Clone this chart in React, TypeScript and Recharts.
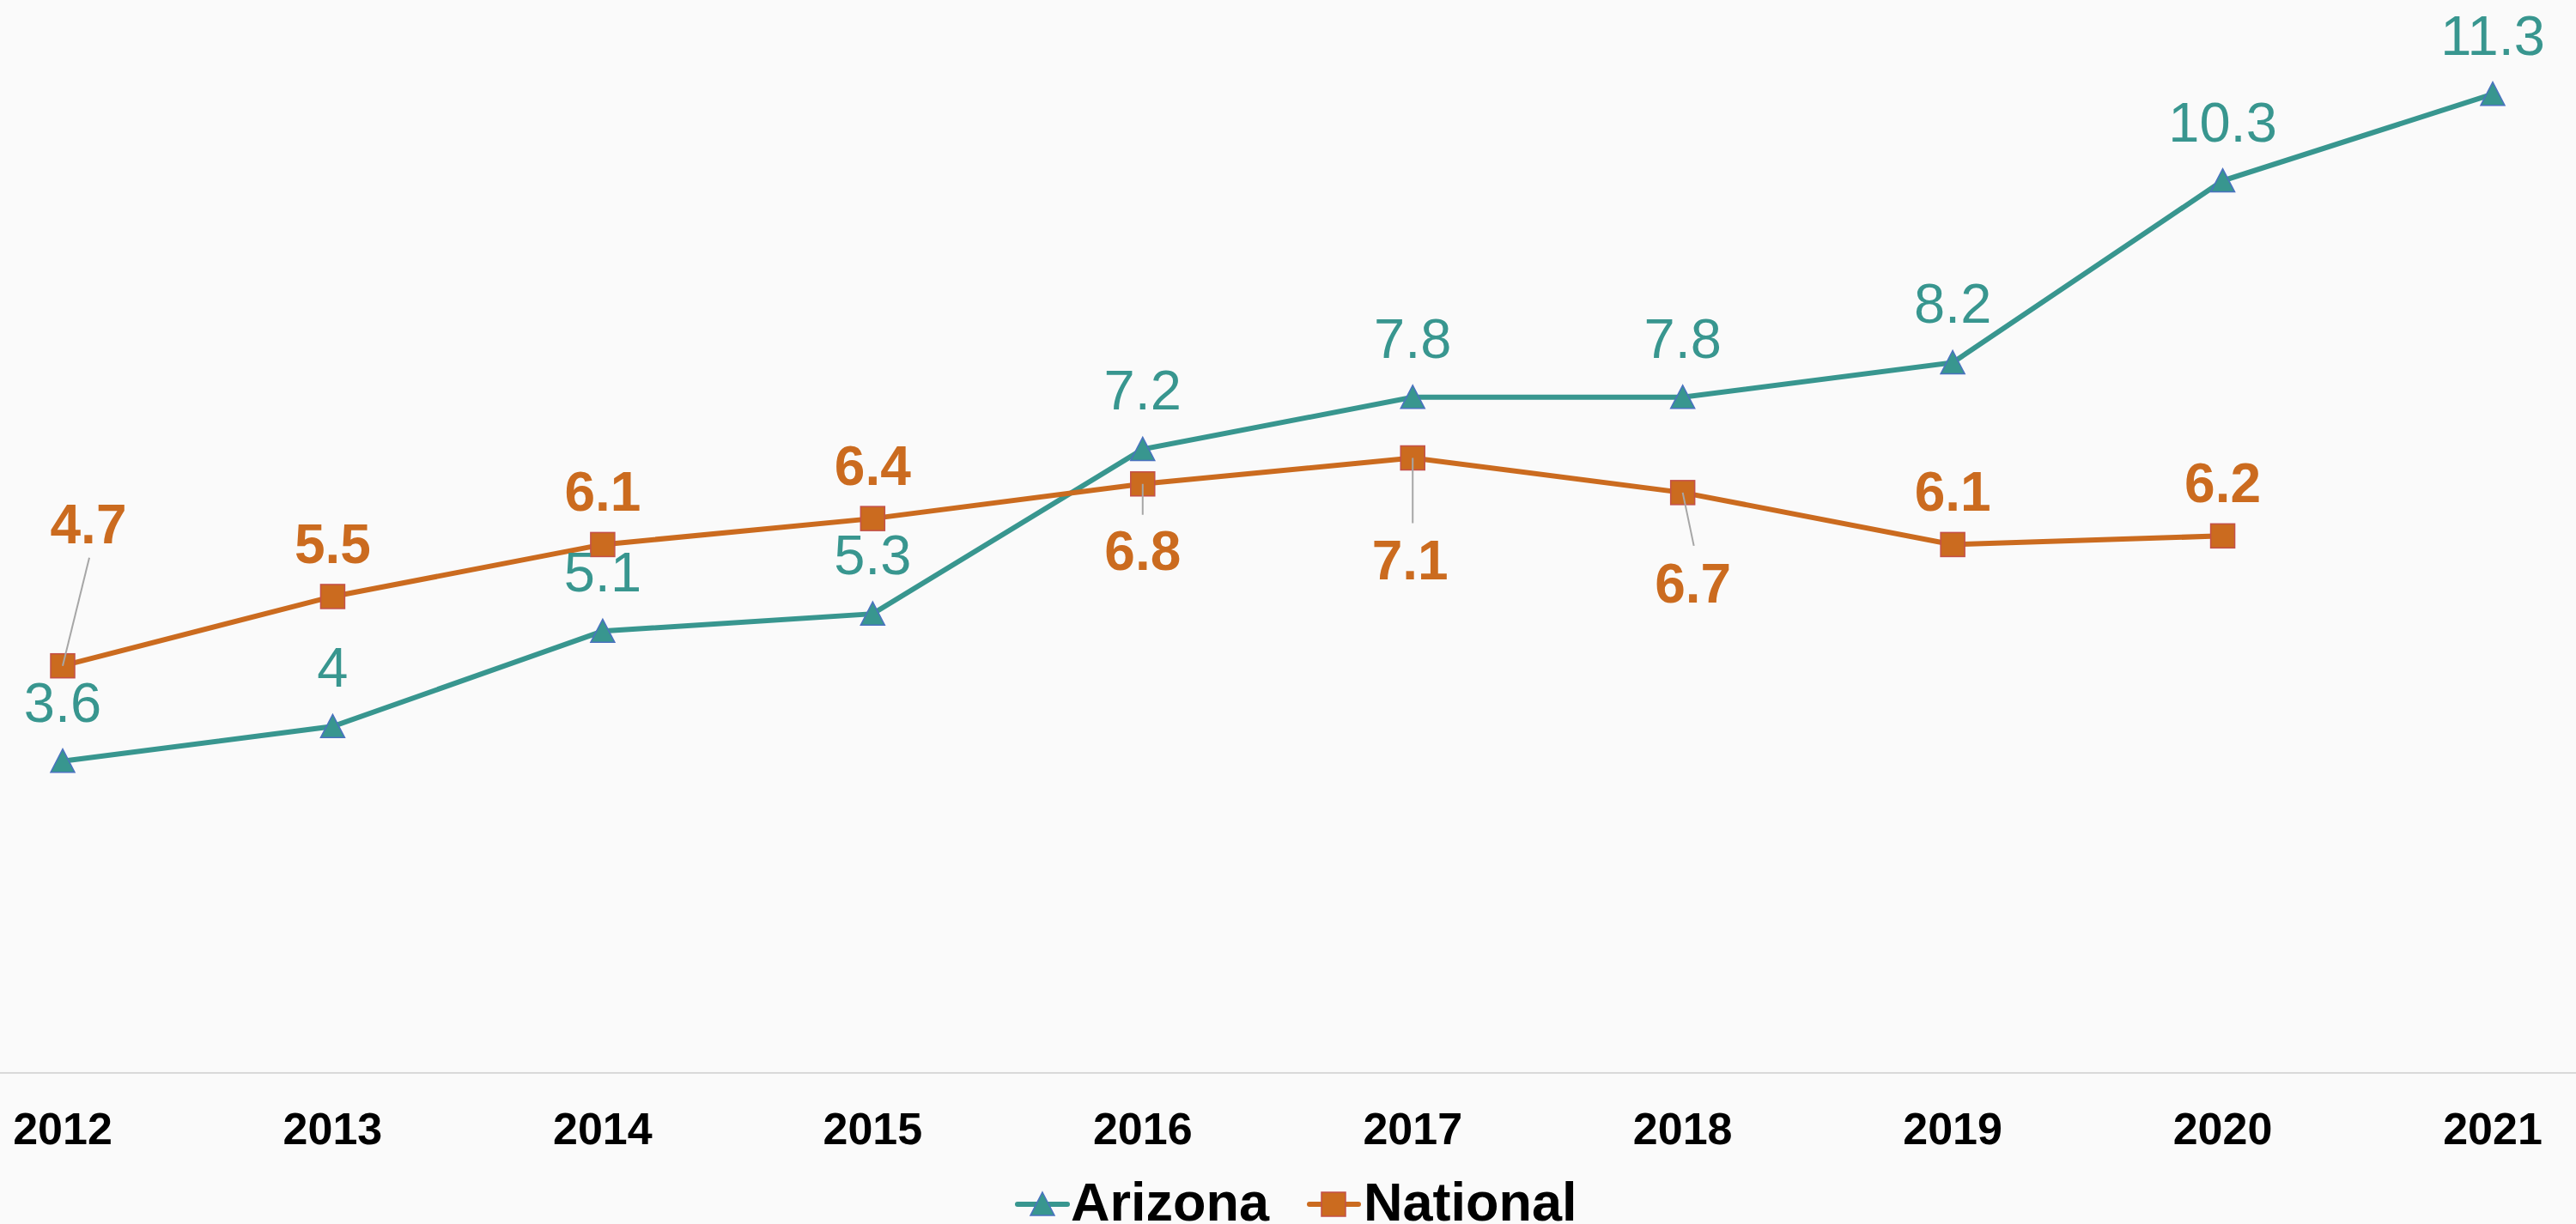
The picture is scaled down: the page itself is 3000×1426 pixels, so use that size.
import { LineChart, Line, XAxis, YAxis, Legend, LabelList } from "recharts";

const years = ["2012", "2013", "2014", "2015", "2016", "2017", "2018", "2019", "2020", "2021"];
const arizona = [3.6, 4, 5.1, 5.3, 7.2, 7.8, 7.8, 8.2, 10.3, 11.3];
const national = [4.7, 5.5, 6.1, 6.4, 6.8, 7.1, 6.7, 6.1, 6.2, null];

const TEAL = "#38968f";
const ORANGE = "#cb6b1f";
const FONT = "'Liberation Sans', Arial, sans-serif";

// where each National label sits relative to its point (dx, baseline dy, leader end)
const nationalLabelPlace = [
  { dx: 30, dy: -143, lead: [31, -126] },
  { dx: 0, dy: -39 },
  { dx: 0, dy: -39 },
  { dx: 0, dy: -39 },
  { dx: 0, dy: 100, lead: [0, 36] },
  { dx: -3, dy: 142, lead: [0, 76] },
  { dx: 12, dy: 128, lead: [13, 62] },
  { dx: 0, dy: -39 },
  { dx: 0, dy: -39 },
  { dx: 0, dy: -39 },
];

const data = years.map((year, i) => ({
  year,
  arizona: arizona[i],
  national: national[i],
}));

const TriangleDot = (props: any) => {
  const { cx, cy, index } = props;
  if (cx == null || cy == null) return <g key={index} />;
  return (
    <path
      key={index}
      d={`M${cx},${cy - 14} L${cx + 14},${cy + 13} L${cx - 14},${cy + 13} Z`}
      fill={TEAL}
      stroke="#4a72c0"
      strokeWidth={1.5}
    />
  );
};

const SquareDot = (props: any) => {
  const { cx, cy, index } = props;
  if (cx == null || cy == null) return <g key={index} />;
  return (
    <rect
      key={index}
      x={cx - 14}
      y={cy - 14}
      width={28}
      height={28}
      fill={ORANGE}
      stroke="#c4504a"
      strokeWidth={1.5}
    />
  );
};

const pos = (props: any) => ({
  x: props.x ?? props.viewBox?.x,
  y: props.y ?? props.viewBox?.y,
});

const ArizonaLabel = (props: any) => {
  const { value, index } = props;
  if (value == null) return null;
  const { x, y } = pos(props);
  return (
    <text
      key={index}
      x={x}
      y={y - 46}
      textAnchor="middle"
      fill={TEAL}
      fontSize={65}
      fontFamily={FONT}
    >
      {value}
    </text>
  );
};

const NationalLabel = (props: any) => {
  const { value, index } = props;
  if (value == null) return null;
  const { x, y } = pos(props);
  const p = nationalLabelPlace[index];
  return (
    <g key={index}>
      {p.lead && (
        <line x1={x} y1={y} x2={x + p.lead[0]} y2={y + p.lead[1]} stroke="#a6a6a6" strokeWidth={2} />
      )}
      <text
        x={x + p.dx}
        y={y + p.dy}
        textAnchor="middle"
        fill={ORANGE}
        fontSize={64}
        fontWeight="bold"
        fontFamily={FONT}
      >
        {value}
      </text>
    </g>
  );
};

const YearTick = (props: any) => {
  const { x, y, payload } = props;
  return (
    <text x={x} y={y + 83} textAnchor="middle" fill="#000" fontSize={52} fontWeight="bold" fontFamily={FONT}>
      {payload.value}
    </text>
  );
};

const LegendBox = () => {
  const c = 1500;
  return (
    <svg width={3000} height={70} style={{ display: "block" }}>
      <line x1={c - 315} y1={47} x2={c - 257} y2={47} stroke={TEAL} strokeWidth={6} strokeLinecap="round" />
      <path d={`M${c - 286},${33} L${c - 272},${60} L${c - 300},${60} Z`} fill={TEAL} stroke="#4a72c0" strokeWidth={1.5} />
      <text x={c - 253} y={66} fontSize={63} fontWeight="bold" fontFamily={FONT} fill="#000">
        Arizona
      </text>
      <line x1={c + 25} y1={47} x2={c + 82} y2={47} stroke={ORANGE} strokeWidth={6} strokeLinecap="round" />
      <rect x={c + 39} y={33} width={28} height={28} fill={ORANGE} stroke="#c4504a" strokeWidth={1.5} />
      <text x={c + 88} y={66} fontSize={63} fontWeight="bold" fontFamily={FONT} fill="#000">
        National
      </text>
    </svg>
  );
};

export default function App() {
  return (
    <div style={{ position: "absolute", left: 0, top: 0, width: 3000, height: 1426, background: "#fafafa" }}>
      <LineChart width={3000} height={1426} data={data} margin={{ top: 39, right: 0, bottom: 0, left: 0 }}>
        <XAxis
          dataKey="year"
          scale="point"
          padding={{ left: 73, right: 97 }}
          height={106}
          tickSize={0}
          tickMargin={0}
          tickLine={false}
          axisLine={{ stroke: "#d9d9d9", strokeWidth: 2 }}
          tick={<YearTick />}
          interval={0}
        />
        <YAxis hide domain={[0, 12]} />
        <Legend verticalAlign="bottom" height={70} content={<LegendBox />} wrapperStyle={{ left: 0, bottom: 0, width: 3000, height: 70 }} />
        <Line
          type="linear"
          dataKey="arizona"
          stroke={TEAL}
          strokeWidth={6}
          dot={<TriangleDot />}
          activeDot={false}
          isAnimationActive={false}
        >
          <LabelList dataKey="arizona" content={<ArizonaLabel />} />
        </Line>
        <Line
          type="linear"
          dataKey="national"
          stroke={ORANGE}
          strokeWidth={6}
          dot={<SquareDot />}
          activeDot={false}
          isAnimationActive={false}
        >
          <LabelList dataKey="national" content={<NationalLabel />} />
        </Line>
      </LineChart>
    </div>
  );
}
